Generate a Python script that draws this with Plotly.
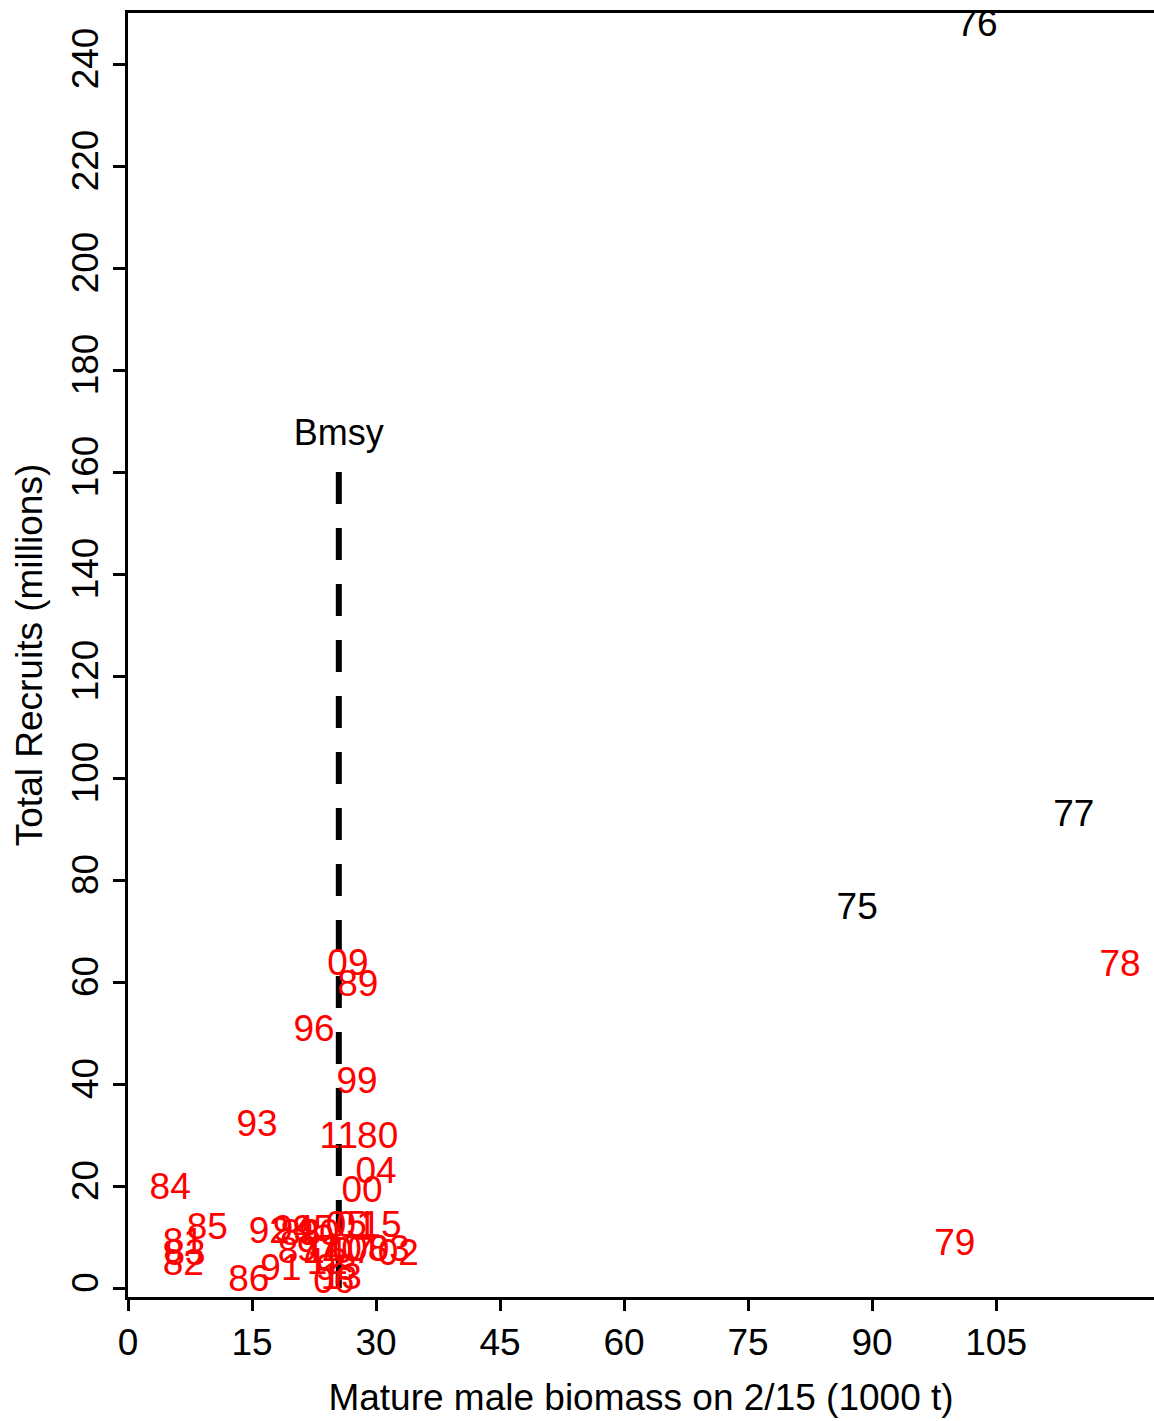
import plotly.graph_objects as go

# year labels placed at (biomass, recruits)
years = ["75", "76", "77", "78", "79", "80", "81", "82", "83", "84",
         "85", "86", "87", "88", "89", "90", "91", "92", "93", "94",
         "95", "96", "97", "98", "99", "00", "01", "02", "03", "04",
         "05", "06", "07", "08", "09", "10", "11", "12", "13", "14", "15"]
biomass = [88.2, 102.7, 114.4, 120.0, 100.0, 30.2, 6.7, 6.7, 6.9, 5.1,
           9.6, 14.6, 20.6, 20.9, 27.8, 23.1, 18.5, 17.1, 15.6, 20.0,
           22.4, 22.5, 22.9, 25.2, 27.7, 28.3, 27.6, 32.7, 31.6, 30.0,
           26.4, 24.9, 27.2, 29.0, 26.6, 25.8, 25.5, 24.1, 25.8, 23.8, 30.6]
recruits = [74.1, 247.4, 92.5, 63.0, 8.2, 29.3, 8.4, 4.3, 6.4, 19.3,
            11.5, 1.2, 6.8, 10.3, 59.1, 10.3, 3.3, 10.7, 31.7, 11.1,
            11.1, 50.3, 7.2, 3.3, 40.1, 18.6, 11.9, 6.4, 7.2, 22.5,
            11.9, 0.8, 6.8, 7.2, 63.2, 7.2, 29.3, 4.5, 1.7, 6.8, 11.9]
black_years = ["75", "76", "77"]
colors = ["black" if y in black_years else "#FF0000" for y in years]

bmsy = 25.5
bmsy_top = 160

font = "Arial, Liberation Sans, sans-serif"

fig = go.Figure()

# Bmsy reference line
fig.add_trace(go.Scatter(
    x=[bmsy, bmsy], y=[0, bmsy_top], mode="lines",
    line=dict(color="black", width=6, dash="32px,24px"),
    hoverinfo="skip", showlegend=False
))
fig.add_trace(go.Scatter(
    x=[bmsy], y=[bmsy_top + 7.0], mode="text", text=["Bmsy"],
    textfont=dict(family=font, size=36, color="black"),
    showlegend=False
))

fig.add_trace(go.Scatter(
    x=biomass, y=recruits, mode="text", text=years,
    textposition="middle center",
    textfont=dict(family=font, size=37, color=colors),
    cliponaxis=True, showlegend=False
))

fig.update_layout(
    width=1154, height=1421,
    margin=dict(l=128, r=0, t=13, b=124),
    plot_bgcolor="white", paper_bgcolor="white",
    font=dict(family=font, size=37, color="black"),
)
fig.update_xaxes(
    range=[0, 124.1], tickvals=[0, 15, 30, 45, 60, 75, 90, 105],
    showgrid=False, zeroline=False,
    showline=True, linecolor="black", linewidth=3, mirror=True,
    ticks="outside", ticklen=11, tickwidth=3, tickcolor="black",
    title=dict(text="Mature male biomass on 2/15 (1000 t)", standoff=22,
               font=dict(size=37)),
)
fig.update_yaxes(
    range=[-1.76, 250], tickvals=list(range(0, 241, 20)), tickangle=-90,
    showgrid=False, zeroline=False,
    showline=True, linecolor="black", linewidth=3,
    ticks="outside", ticklen=12, tickwidth=3, tickcolor="black",
    title=dict(text="Total Recruits (millions)", standoff=12,
               font=dict(size=37)),
)

# page body has a default margin; drop it so the figure sits at the corner
fig.write_html("out.html", config={"displayModeBar": False},
               post_script="document.body.style.margin='0px';")
